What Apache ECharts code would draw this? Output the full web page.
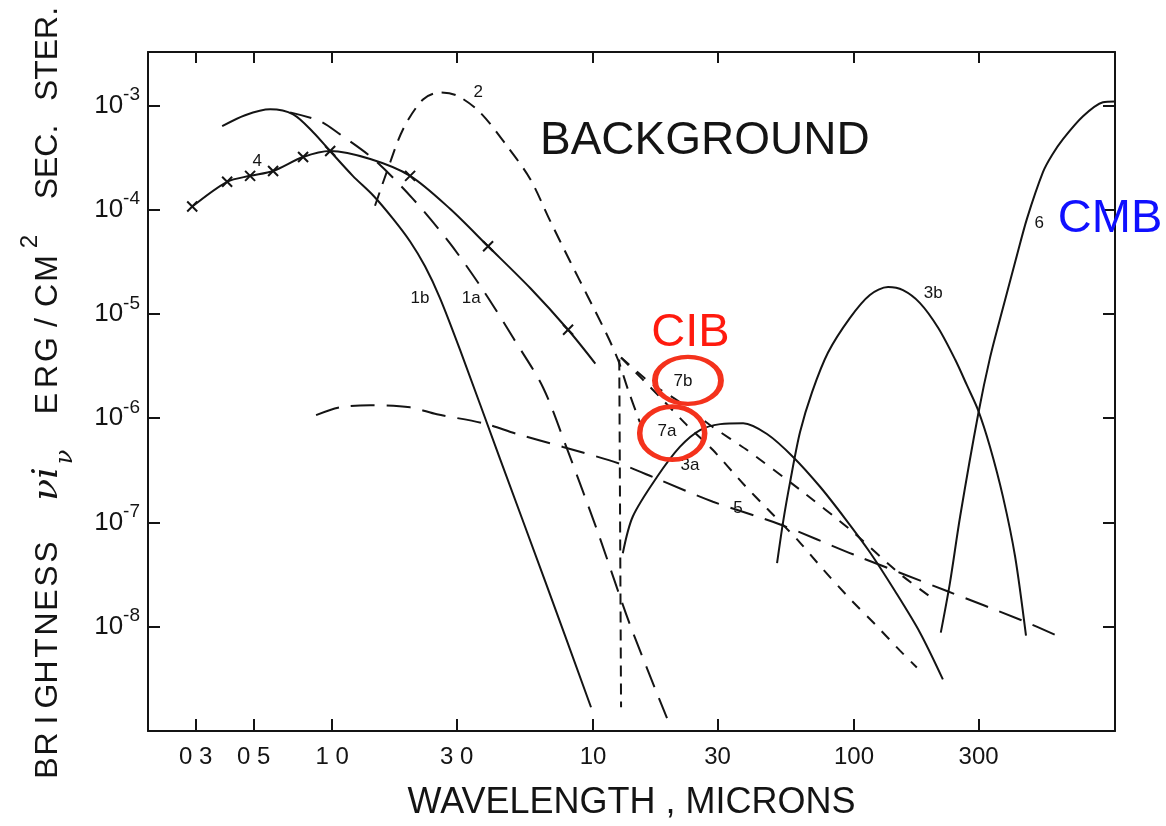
<!DOCTYPE html>
<html>
<head>
<meta charset="utf-8">
<script src="https://cdn.jsdelivr.net/npm/echarts@6/dist/echarts.min.js"></script>
<style>
  html, body { margin: 0; padding: 0; background: #ffffff; }
  #chart { width: 1166px; height: 826px; }
</style>
</head>
<body>
<div id="chart"></div>
<script>
// Sky background brightness (erg cm^-2 s^-1 sr^-1) against wavelength (microns)

const xTickValues = [0.3, 0.5, 1, 3, 10, 30, 100, 300];
const xTickLabels = ['0 3', '0 5', '1 0', '3 0', '10', '30', '100', '300'];
const yTickValues = [1e-8, 1e-7, 1e-6, 1e-5, 1e-4, 1e-3];
const yTickExponents = ['-8', '-7', '-6', '-5', '-4', '-3'];

// 1b
const curve1bWavelength = [0.379, 0.464, 0.579, 0.709, 0.846, 0.982, 1.20, 1.44, 1.71, 1.99, 2.27, 2.59, 3.09, 4.40, 6.55, 9.82];
const curve1bBrightness = [6.31e-4, 8.04e-4, 9.16e-4, 8.20e-4, 5.53e-4, 3.65e-4, 2.11e-4, 1.36e-4, 8.20e-5, 4.95e-5, 2.86e-5, 1.42e-5, 4.54e-6, 4.07e-7, 2.74e-8, 1.69e-9];

// 1a
const curve1aWavelength = [0.690, 0.900, 1.07, 1.44, 2.04, 2.83, 3.79, 4.94, 6.43, 7.95, 10.4, 13.9, 19.2];
const curve1aBrightness = [8.57e-4, 7.05e-4, 5.30e-4, 3.06e-4, 1.27e-4, 4.74e-5, 1.69e-5, 5.90e-6, 1.97e-6, 5.07e-7, 8.20e-8, 1.02e-8, 1.33e-9];

// 2
const curve2Wavelength = [1.46, 1.62, 1.87, 2.23, 2.59, 3.01, 3.69, 4.68, 5.74, 6.84, 8.16, 9.48, 11.3, 12.5, 13.6, 15.1];
const curve2Brightness = [1.09e-4, 2.30e-4, 5.91e-4, 1.14e-3, 1.33e-3, 1.24e-3, 8.57e-4, 4.07e-4, 1.97e-4, 7.85e-5, 3.20e-5, 1.52e-5, 6.31e-6, 3.56e-6, 1.89e-6, 9.16e-7];
const curve2CutWavelength = [12.6, 12.8];
const curve2CutBrightness = [3.65e-6, 1.69e-9];

// 4 (line and measured points)
const curve4Wavelength = [0.291, 0.396, 0.485, 0.594, 0.774, 0.983, 1.40, 1.99, 2.83, 3.96, 5.74, 8.02, 10.2];
const curve4Brightness = [1.07e-4, 1.85e-4, 2.11e-4, 2.35e-4, 3.20e-4, 3.65e-4, 3.06e-4, 2.11e-4, 1.02e-4, 4.45e-5, 1.77e-5, 7.05e-6, 3.34e-6];
const curve4PointWavelength = [0.291, 0.396, 0.485, 0.594, 0.774, 0.983, 1.99, 3.96, 8.02];
const curve4PointBrightness = [1.07e-4, 1.85e-4, 2.11e-4, 2.35e-4, 3.20e-4, 3.65e-4, 2.11e-4, 4.45e-5, 7.05e-6];

// 5
const curve5Wavelength = [0.868, 1.07, 1.40, 1.99, 2.52, 3.79, 5.11, 7.67, 12.7, 17.6, 28.8, 52.1, 99, 227, 444, 600];
const curve5Brightness = [1.07e-6, 1.27e-6, 1.33e-6, 1.27e-6, 1.09e-6, 8.95e-7, 7.05e-7, 5.30e-7, 3.65e-7, 2.62e-7, 1.58e-7, 9.57e-8, 4.95e-8, 2.20e-8, 1.14e-8, 8.20e-9];

// 3a
const curve3aWavelength = [13.0, 14.2, 17.6, 21.5, 25.7, 30.7, 37.6, 46.4, 58.4, 74.1, 92.4, 115, 143.5, 179, 219];
const curve3aBrightness = [5.07e-8, 1.14e-7, 2.74e-7, 5.30e-7, 7.69e-7, 8.77e-7, 8.95e-7, 7.05e-7, 4.25e-7, 2.20e-7, 1.09e-7, 5.18e-8, 2.20e-8, 8.77e-9, 3.13e-9];

// 3b
const curve3bWavelength = [50.7, 53.5, 56.9, 62.1, 69.0, 79.5, 96.5, 115, 135, 154, 179, 210, 244, 271, 299, 332, 372, 414, 456];
const curve3bBrightness = [4.07e-8, 1.02e-7, 2.45e-7, 7.36e-7, 1.77e-6, 4.26e-6, 9.17e-6, 1.52e-5, 1.81e-5, 1.69e-5, 1.27e-5, 7.36e-6, 3.65e-6, 2.06e-6, 1.19e-6, 5.30e-7, 1.77e-7, 4.74e-8, 8.20e-9];

// 6 (CMB)
const curve6Wavelength = [215, 233, 255, 299, 332, 372, 418, 460, 530, 574, 632, 754, 899, 1000];
const curve6Brightness = [8.77e-9, 2.62e-8, 1.14e-7, 1.09e-6, 3.81e-6, 1.14e-5, 3.41e-5, 8.20e-5, 2.30e-4, 3.34e-4, 4.74e-4, 7.85e-4, 1.07e-3, 1.09e-3];

// 7a, 7b (CIB)
const curve7aWavelength = [12.8, 18.1, 22.9, 28.8, 37.6, 46.4, 60.5, 76.0, 96.5, 122, 150, 174];
const curve7aBrightness = [3.81e-6, 1.58e-6, 8.57e-7, 4.95e-7, 2.35e-7, 1.36e-7, 6.89e-8, 3.56e-8, 1.85e-8, 1.02e-8, 5.90e-9, 4.07e-9];
const curve7bWavelength = [12.8, 16.5, 21.0, 28.8, 38.9, 62.1, 96.5, 150, 201];
const curve7bBrightness = [3.81e-6, 2.20e-6, 1.48e-6, 8.20e-7, 4.95e-7, 2.06e-7, 8.57e-8, 3.20e-8, 1.85e-8];

// curve numbers
const curveLabelText = ['2', '4', '1b', '1a', '7b', '7a', '3a', '5', '3b', '6'];
const curveLabelWavelength = [3.63, 0.516, 2.17, 3.41, 22.1, 19.2, 23.5, 35.9, 201, 512];
const curveLabelBrightness = [1.33e-3, 2.93e-4, 1.40e-5, 1.40e-5, 2.25e-6, 7.52e-7, 3.56e-7, 1.36e-7, 1.58e-5, 7.36e-5];

// highlighted components
const ringWavelength = [23.1, 20.1];
const ringBrightness = [2.30e-6, 7.19e-7];
const calloutText = ['CIB', 'CMB'];
const calloutWavelength = [23.6, 957];
const calloutBrightness = [6.59e-6, 8.04e-5];

const INK = '#141414';
const FONT = "'Liberation Sans', Arial, sans-serif";
const RING_RED = '#f4321c';
const CIB_RED = '#ff1a0e';
const CMB_BLUE = '#1010ff';

function pairs(xs, ys) { return xs.map((x, i) => [x, ys[i]]); }

function curve(name, xs, ys, dash, smooth) {
  return {
    type: 'line', name: name, data: pairs(xs, ys),
    symbol: 'none', smooth: smooth === undefined ? 0.3 : smooth,
    lineStyle: { color: INK, width: 2, type: dash || 'solid', cap: 'butt' },
    silent: true, z: 2
  };
}

// letter-spaced word for the vertical axis title
function spaced(word, w, style) {
  return word.split('').map(ch => '{' + style + w + '|' + ch + '}').join('');
}

const yName =
  spaced('BRIGHTNESS', 24, 'L') +
  '{gap|\u00a0}' +
  '{nu|\u03bdi}{sub|\u03bd}' +
  '{gap2|\u00a0}' +
  spaced('ERG/CM', 27, 'L') +
  '{sup|2}' +
  '{gap3|\u00a0}' +
  '{sec|SEC.}' +
  '{gap4|\u00a0}' +
  '{ster|STER.}';

const baseLetter = { fontSize: 32, fontFamily: FONT, color: INK, lineHeight: 60, align: 'center' };

const chart = echarts.init(document.getElementById('chart'), null, { renderer: 'canvas' });

function xLabel(v) {
  const i = xTickValues.findIndex(t => Math.abs(Math.log10(v / t)) < 1e-6);
  return i >= 0 ? xTickLabels[i] : '';
}
function yLabel(v) {
  const i = yTickValues.findIndex(t => Math.abs(Math.log10(v / t)) < 1e-6);
  return i >= 0 ? '{b|10}{s|' + yTickExponents[i] + '}' : '';
}

const axisLineStyle = { color: INK, width: 2 };
const tickStyle = { color: INK, width: 2 };

chart.setOption({
  animation: false,
  backgroundColor: '#ffffff',
  title: {
    text: 'BACKGROUND', left: 535, top: 113,
    textStyle: { fontSize: 46, fontWeight: 'normal', color: INK, fontFamily: FONT }
  },
  grid: { left: 148, right: 51, top: 52, bottom: 88 },
  xAxis: [
    {
      type: 'log', logBase: 10, position: 'bottom', min: 0.197, max: 1000,
      axisLine: { show: true, lineStyle: axisLineStyle },
      axisTick: { show: true, inside: true, length: 12, customValues: xTickValues, lineStyle: tickStyle },
      minorTick: { show: false },
      axisLabel: { show: true, customValues: xTickValues, formatter: xLabel, fontSize: 24, color: INK, fontFamily: FONT, margin: 14 },
      splitLine: { show: false },
      name: 'WAVELENGTH , MICRONS', nameLocation: 'middle', nameGap: 54,
      nameTextStyle: { fontSize: 36, color: INK, fontFamily: FONT }
    },
    {
      type: 'log', logBase: 10, position: 'top', min: 0.197, max: 1000,
      axisLine: { show: true, lineStyle: axisLineStyle },
      axisTick: { show: true, inside: true, length: 11, customValues: xTickValues, lineStyle: tickStyle },
      axisLabel: { show: false },
      splitLine: { show: false }
    }
  ],
  yAxis: [
    {
      type: 'log', logBase: 10, position: 'left', min: 1e-9, max: 3.25e-3,
      axisLine: { show: true, lineStyle: axisLineStyle },
      axisTick: { show: true, inside: true, length: 12, customValues: yTickValues, lineStyle: tickStyle },
      axisLabel: {
        show: true, customValues: yTickValues, formatter: yLabel, margin: 8,
        rich: {
          b: { fontSize: 26, fontFamily: FONT, color: INK, lineHeight: 40 },
          s: { fontSize: 19, fontFamily: FONT, color: INK, lineHeight: 16, verticalAlign: 'top' }
        }
      },
      splitLine: { show: false },
      name: yName, nameLocation: 'middle', nameRotate: 90, nameGap: 70,
      nameTextStyle: {
        rich: {
          L24: Object.assign({}, baseLetter, { width: 24 }),
          L27: Object.assign({}, baseLetter, { width: 27 }),
          gap: { width: 36, lineHeight: 60, fontSize: 10 },
          nu: { fontSize: 36, fontFamily: "'DejaVu Serif', serif", fontStyle: 'italic', color: INK, width: 40, align: 'center', lineHeight: 60 },
          sub: { fontSize: 24, fontFamily: "'DejaVu Serif', serif", fontStyle: 'italic', color: INK, width: 14, align: 'center', lineHeight: 46, verticalAlign: 'bottom' },
          gap2: { width: 33, lineHeight: 60, fontSize: 10 },
          sup: { fontSize: 24, fontFamily: FONT, color: INK, width: 27, align: 'right', lineHeight: 18, verticalAlign: 'top' },
          gap3: { width: 30, lineHeight: 60, fontSize: 10 },
          sec: Object.assign({}, baseLetter, { width: 72 }),
          gap4: { width: 21, lineHeight: 60, fontSize: 10 },
          ster: Object.assign({}, baseLetter, { width: 102 })
        }
      }
    },
    {
      type: 'log', logBase: 10, position: 'right', min: 1e-9, max: 3.25e-3,
      axisLine: { show: true, lineStyle: axisLineStyle },
      axisTick: { show: true, inside: true, length: 12, customValues: yTickValues, lineStyle: tickStyle },
      axisLabel: { show: false },
      splitLine: { show: false }
    }
  ],
  series: [
    curve('1b', curve1bWavelength, curve1bBrightness, 'solid'),
    curve('1a', curve1aWavelength, curve1aBrightness, [22, 12]),
    curve('2', curve2Wavelength, curve2Brightness, [14, 9]),
    curve('2 cut', curve2CutWavelength, curve2CutBrightness, [11, 7], false),
    curve('4', curve4Wavelength, curve4Brightness, 'solid'),
    {
      type: 'scatter', name: '4 points', data: pairs(curve4PointWavelength, curve4PointBrightness),
      symbol: 'path://M0,0L10,10M10,0L0,10', symbolSize: 10,
      itemStyle: { color: 'rgba(0,0,0,0)', borderColor: INK, borderWidth: 2, opacity: 1 },
      silent: true, z: 3
    },
    curve('5', curve5Wavelength, curve5Brightness, [24, 12]),
    curve('3a', curve3aWavelength, curve3aBrightness, 'solid'),
    curve('3b', curve3bWavelength, curve3bBrightness, 'solid'),
    curve('6', curve6Wavelength, curve6Brightness, 'solid'),
    curve('7a', curve7aWavelength, curve7aBrightness, [11, 10], 0.2),
    curve('7b', curve7bWavelength, curve7bBrightness, [11, 10], 0.2),
    {
      type: 'scatter', name: 'curve numbers',
      data: curveLabelText.map((t, i) => [curveLabelWavelength[i], curveLabelBrightness[i], t]),
      symbolSize: 1, itemStyle: { color: 'rgba(0,0,0,0)', opacity: 1 },
      label: { show: true, position: 'inside', formatter: p => p.value[2], fontSize: 17, color: INK, fontFamily: FONT },
      silent: true, z: 4
    },
    {
      type: 'scatter', name: 'rings',
      data: pairs(ringWavelength, ringBrightness),
      symbol: 'circle',
      symbolSize: (v, p) => (p.dataIndex === 0 ? [66, 47] : [65, 53]),
      itemStyle: { color: 'rgba(0,0,0,0)', borderColor: RING_RED, borderWidth: 5, opacity: 1 },
      silent: true, z: 5
    },
    {
      type: 'scatter', name: 'callouts',
      data: calloutText.map((t, i) => ({
        value: [calloutWavelength[i], calloutBrightness[i], t],
        label: { color: i === 0 ? CIB_RED : CMB_BLUE }
      })),
      symbolSize: 1, itemStyle: { color: 'rgba(0,0,0,0)', opacity: 1 },
      label: { show: true, position: 'inside', formatter: p => p.value[2], fontSize: 47, fontFamily: FONT },
      silent: true, z: 6
    }
  ]
});
</script>
</body>
</html>
